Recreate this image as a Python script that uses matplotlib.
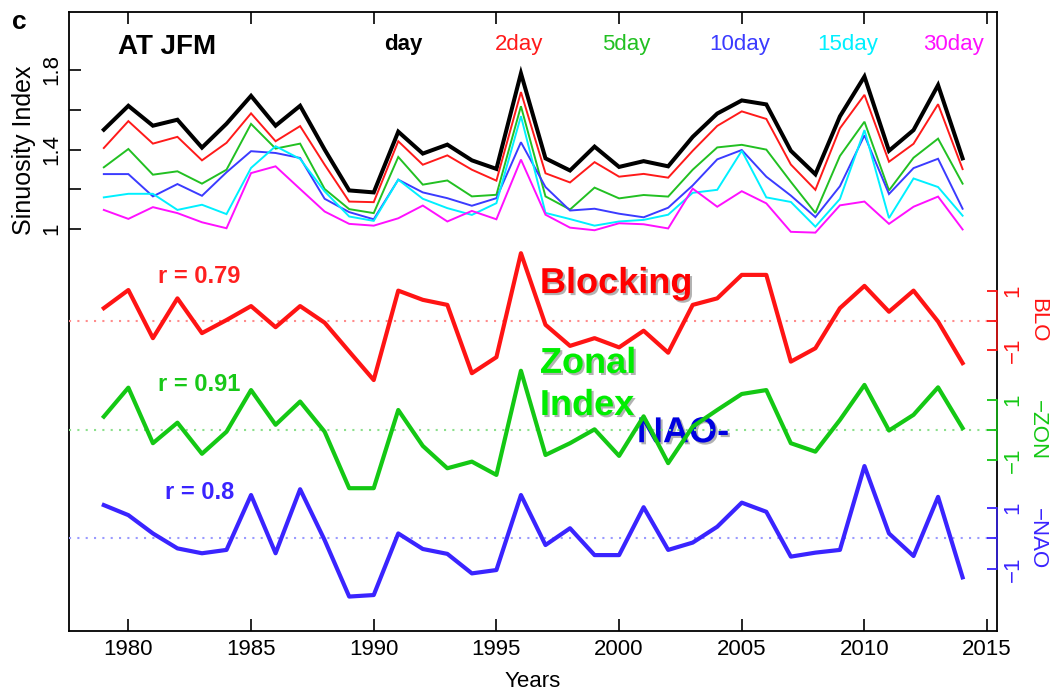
import numpy as np
import matplotlib
matplotlib.use("Agg")
import matplotlib.pyplot as plt
import matplotlib.patheffects as pe

plt.rcParams['font.family'] = ['Liberation Sans', 'DejaVu Sans']

years = list(range(1979, 2015))

# sinuosity index, JFM, Atlantic sector
si_day = [1.50, 1.62, 1.52, 1.55, 1.41, 1.53, 1.67, 1.52, 1.62, 1.40, 1.195, 1.185,
          1.49, 1.38, 1.425, 1.346, 1.303, 1.783, 1.356, 1.295, 1.415, 1.313, 1.342, 1.316,
          1.464, 1.581, 1.647, 1.627, 1.394, 1.276, 1.567, 1.767, 1.394, 1.498, 1.724, 1.356]
si_2day = [1.408, 1.543, 1.43, 1.464, 1.346, 1.434, 1.582, 1.442, 1.518, 1.324, 1.139, 1.136,
           1.442, 1.324, 1.371, 1.299, 1.244, 1.689, 1.281, 1.235, 1.337, 1.264, 1.278, 1.259,
           1.394, 1.519, 1.592, 1.554, 1.325, 1.198, 1.507, 1.675, 1.339, 1.429, 1.628, 1.302]
si_5day = [1.311, 1.403, 1.274, 1.291, 1.229, 1.299, 1.529, 1.405, 1.43, 1.202, 1.101, 1.081,
           1.363, 1.224, 1.245, 1.165, 1.173, 1.618, 1.165, 1.099, 1.209, 1.155, 1.172, 1.164,
           1.299, 1.411, 1.424, 1.40, 1.238, 1.082, 1.368, 1.54, 1.195, 1.359, 1.455, 1.229]
si_10day = [1.277, 1.277, 1.165, 1.227, 1.168, 1.286, 1.392, 1.383, 1.358, 1.153, 1.086, 1.05,
            1.249, 1.185, 1.156, 1.118, 1.156, 1.437, 1.212, 1.094, 1.103, 1.078, 1.06, 1.108,
            1.22, 1.351, 1.398, 1.264, 1.169, 1.061, 1.216, 1.472, 1.177, 1.307, 1.354, 1.103]
si_15day = [1.16, 1.178, 1.178, 1.097, 1.123, 1.076, 1.308, 1.417, 1.353, 1.19, 1.064, 1.042,
            1.249, 1.153, 1.106, 1.072, 1.131, 1.568, 1.082, 1.051, 1.018, 1.039, 1.047, 1.073,
            1.183, 1.198, 1.394, 1.16, 1.137, 1.013, 1.152, 1.498, 1.056, 1.255, 1.212, 1.068]
si_30day = [1.097, 1.052, 1.111, 1.081, 1.035, 1.005, 1.282, 1.316, 1.202, 1.089, 1.027, 1.018,
            1.055, 1.119, 1.039, 1.092, 1.05, 1.35, 1.073, 1.008, 0.995, 1.03, 1.025, 1.004,
            1.204, 1.113, 1.191, 1.13, 0.987, 0.983, 1.12, 1.139, 1.027, 1.113, 1.164, 0.999]

# standardised indices
blo = [0.42, 1.03, -0.59, 0.75, -0.42, 0.02, 0.49, -0.22, 0.49, -0.07, -1.04, -2.0,
       1.01, 0.70, 0.53, -1.77, -1.23, 2.27, -0.14, -0.85, -0.59, -0.90, -0.34, -1.08,
       0.53, 0.75, 1.54, 1.54, -1.38, -0.93, 0.42, 1.17, 0.30, 1.01, -0.03, -1.43]
zon = [0.44, 1.40, -0.44, 0.24, -0.79, -0.06, 1.32, 0.17, 0.94, -0.06, -1.93, -1.93,
       0.66, -0.53, -1.27, -1.05, -1.49, 1.96, -0.83, -0.44, 0.02, -0.86, 0.45, -1.10,
       0.11, 0.66, 1.19, 1.32, -0.44, -0.72, 0.33, 1.49, -0.02, 0.50, 1.41, 0.06]
nao = [1.09, 0.76, 0.16, -0.33, -0.49, -0.38, 1.42, -0.49, 1.61, -0.06, -1.91, -1.86,
       0.16, -0.35, -0.51, -1.15, -1.04, 1.42, -0.22, 0.33, -0.55, -0.55, 1.02, -0.38,
       -0.14, 0.38, 1.17, 0.87, -0.60, -0.47, -0.38, 2.37, 0.16, -0.58, 1.36, -1.28]

si_labels = ['day', '2day', '5day', '10day', '15day', '30day']
si_colors = ['black', '#ff1a1a', '#22c022', '#3b3bff', '#00f0ff', '#ff10ff']

fig = plt.figure(figsize=(10.58, 6.91), dpi=100)
ax = fig.add_axes([0.0652, 0.0868, 0.8771, 0.8958])

for series, lab, col in zip([si_day, si_2day, si_5day, si_10day, si_15day, si_30day],
                            si_labels, si_colors):
    lw = 2.9 if lab == 'day' else 1.4
    ax.plot(years, series, color=col, lw=lw, solid_joinstyle='miter')

ax.set_xlim(1977.58, 2015.4)
ax.set_ylim(-1.018, 2.091)
ax.set_xticks([1980, 1985, 1990, 1995, 2000, 2005, 2010, 2015])
ax.set_yticks([1.0, 1.2, 1.4, 1.6, 1.8])
ax.set_yticklabels(['1', '', '1.4', '', '1.8'], rotation=90, va='center')
ax.tick_params(axis='both', direction='in', length=8.5, width=1.2, labelsize=16,
               top=True, right=False)
ax.tick_params(axis='y', pad=5)
ax.tick_params(axis='x', pad=6)
for s in ax.spines.values():
    s.set_linewidth(1.3)
ax.set_xlabel('Years', fontsize=16, labelpad=8)
ax.set_ylabel('Sinuosity Index', fontsize=18)
ax.yaxis.set_label_coords(-0.036, 0.777)

# frequency legend as coloured words
leg_x = [0.36, 0.485, 0.601, 0.723, 0.839, 0.953]
for lab, col, xx in zip(si_labels, si_colors, leg_x):
    ax.text(xx, 0.948, lab, transform=ax.transAxes, color=col, fontsize=16,
            ha='center', va='center', fontweight='bold' if lab == 'day' else 'normal')
ax.text(0.053, 0.943, 'AT JFM', transform=ax.transAxes, fontsize=20,
        fontweight='bold', ha='left', va='center')
fig.text(0.011, 0.985, 'c', fontsize=19, fontweight='bold', ha='left', va='top')

# the three indices, each on its own right-hand scale
idx = [
    (blo, 'BLO', '#ff1414', '#ff8c8c', (-10.45, 10.39)),
    (zon, '\u2212ZON', '#14c814', '#8ce08c', (-6.66, 13.84)),
    (nao, '\u2212NAO', '#3a24ff', '#9a9aff', (-3.04, 17.26)),
]
for vals, name, col, light, lim in idx:
    tw = ax.twinx()
    tw.set_ylim(*lim)
    tw.axhline(0, color=light, lw=1.5, ls=(0, (1, 3)), zorder=1)
    tw.plot(years, vals, color=col, lw=3.0, zorder=3)
    for side in ['left', 'top', 'bottom']:
        tw.spines[side].set_visible(False)
    tw.spines['right'].set_bounds(-1, 1)
    tw.spines['right'].set_color(col)
    tw.spines['right'].set_alpha(0.8)
    tw.spines['right'].set_linewidth(1.3)
    tw.set_yticks([-1, 0, 1])
    tw.set_yticklabels(['\u22121', '', '1'], rotation=90, va='center')
    tw.tick_params(axis='y', direction='in', length=7.5, width=1.3, color=col,
                   labelcolor=col, labelsize=16, pad=4)
    tw.text(1.044, 0, name, transform=tw.get_yaxis_transform(), color=col,
            fontsize=16, rotation=270, ha='center', va='center')

shadow = [pe.SimplePatchShadow(offset=(1.5, -1.5), shadow_rgbFace='#555555', alpha=0.45),
          pe.Normal()]
ax.text(0.096, 0.573, 'r = 0.79', transform=ax.transAxes, color='#ff2020',
        fontsize=17, fontweight='bold', va='center')
ax.text(0.096, 0.399, 'r = 0.91', transform=ax.transAxes, color='#18c818',
        fontsize=17, fontweight='bold', va='center')
ax.text(0.103, 0.2245, 'r = 0.8', transform=ax.transAxes, color='#3a24ff',
        fontsize=17, fontweight='bold', va='center')
ax.text(0.5075, 0.546, 'Blocking', transform=ax.transAxes, color='#ff0000',
        fontsize=26, fontweight='bold', va='baseline', path_effects=shadow, zorder=10)
ax.text(0.5075, 0.417, 'Zonal', transform=ax.transAxes, color='#00ee00',
        fontsize=26, fontweight='bold', va='baseline', path_effects=shadow, zorder=10)
ax.text(0.5075, 0.349, 'Index', transform=ax.transAxes, color='#00ee00',
        fontsize=26, fontweight='bold', va='baseline', path_effects=shadow, zorder=10)
ax.text(0.612, 0.305, 'NAO-', transform=ax.transAxes, color='#0000e0',
        fontsize=26, fontweight='bold', va='baseline', path_effects=shadow, zorder=10)

fig.savefig('out.png', dpi=100, facecolor='white')
